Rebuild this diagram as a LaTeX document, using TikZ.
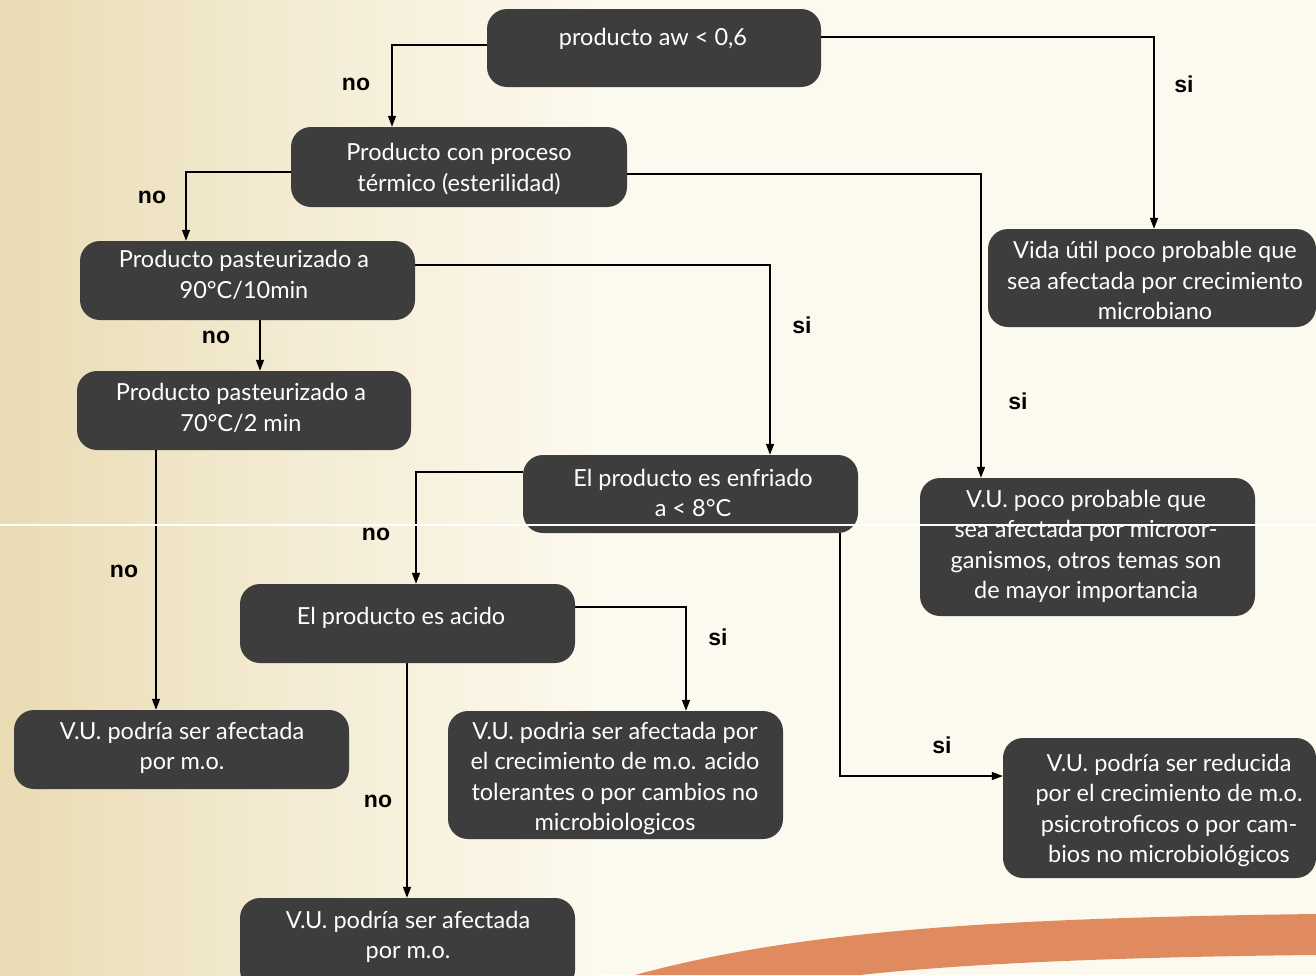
\documentclass[tikz,border=0pt]{standalone}
\usepackage{fontspec}
\setmainfont{Lato}
\newfontfamily\lblfont{Liberation Sans}
\usetikzlibrary{arrows.meta,calc}
\definecolor{boxgray}{HTML}{3D3D3D}
\definecolor{cream}{HTML}{FCF9EE}
\definecolor{tan}{HTML}{E9DBB3}
\definecolor{swoosh}{HTML}{E08A60}
\tikzset{
  box/.style={draw=none, fill=boxgray, rounded corners=20pt, inner sep=0pt},
  txt/.style={text=white, align=center, font=\fontsize{23.5}{30.5}\selectfont, inner sep=0pt},
  arr/.style={draw=black, line width=1.4pt, -{Triangle[length=11pt,width=8pt]}},
  lbl/.style={font=\lblfont\bfseries\fontsize{23}{26}\selectfont, text=black, inner sep=0pt},
}
\begin{document}
\begin{tikzpicture}[x=1pt,y=-1pt]
\useasboundingbox (0,0) rectangle (1316,975);
% background
\fill[cream] (0,0) rectangle (1316,975);
\shade[left color=tan, right color=cream, middle color=tan!45!cream] (0,0) rectangle (600,975);
\fill[swoosh] (635,975) .. controls (800,930) and (1000,918) .. (1316,914) -- (1316,955) .. controls (1100,957) and (950,965) .. (860,975) -- cycle;

% boxes
\node[box, minimum width=334pt, minimum height=78pt] (A) at (654,48) {};
\node[box, minimum width=336pt, minimum height=80pt] (B) at (459,167) {};
\node[box, minimum width=335pt, minimum height=79pt] (C) at (247.5,280.5) {};
\node[box, minimum width=334pt, minimum height=79pt] (D) at (244,410.5) {};
\node[box, minimum width=335pt, minimum height=78pt] (E) at (690.5,494) {};
\node[box, minimum width=328pt, minimum height=98pt] (F) at (1152,278) {};
\node[box, minimum width=335pt, minimum height=138pt] (G) at (1087.5,547) {};
\node[box, minimum width=335pt, minimum height=79pt] (H) at (407.5,623.5) {};
\node[box, minimum width=335pt, minimum height=79pt] (I) at (181.5,749.5) {};
\node[box, minimum width=335pt, minimum height=128pt] (J) at (615.5,775) {};
\node[box, minimum width=313pt, minimum height=140pt] (K) at (1159.5,808) {};
\node[box, minimum width=335pt, minimum height=92pt] (L) at (407.5,944) {};

% texts
\node[txt] (At) at (653,39) {producto aw < 0,6};
\node[txt] (Bt) at (459,169) {Producto con proceso\\térmico (esterilidad)};
\node[txt] (Ct) at (244,275) {Producto pasteurizado a\\90°C/10min};
\node[txt] (Dt) at (241,408) {Producto pasteurizado a\\70°C/2 min};
\node[txt] (Et) at (693,493) {El producto es enfriado\\a < 8°C};
\node[txt] (Ft) at (1155,280.5) {Vida útil poco probable que\\sea afectada por crecimiento\\microbiano};
\node[txt] (Gt) at (1086,546.5) {V.U. poco probable que\\sea afectada por microor-\\ganismos, otros temas son\\de mayor importancia};
\node[txt] (Ht) at (401,618) {El producto es acido};
\node[txt] (It) at (182,748) {V.U. podría ser afectada\\por m.o.};
\node[txt] (Jt) at (615,778.5) {V.U. podria ser afectada por\\el crecimiento de m.o. acido\\tolerantes o por cambios no\\microbiologicos};
\node[txt] (Kt) at (1169,810.5) {V.U. podría ser reducida\\por el crecimiento de m.o.\\psicrotroficos o por cam-\\bios no microbiológicos};
\node[txt] (Lt) at (408,937) {V.U. podría ser afectada\\por m.o.};

% connectors
\draw[arr] (A.west |- 0,45) -| (B.north -| 392,0);
\draw[arr] (A.east |- 0,37) -| (F.north -| 1154,0);
\draw[arr] (B.west |- 0,172) -| (C.north -| 186,0);
\draw[arr] (B.east |- 0,174) -| (G.north -| 981,0);
\draw[arr] (C.east |- 0,265) -| (E.north -| 770,0);
\draw[arr] (C.south -| 260,0) -- (D.north -| 260,0);
\draw[arr] (D.south -| 156,0) -- (I.north -| 156,0);
\draw[arr] (E.west |- 0,472) -| (H.north -| 416,0);
\draw[arr] (E.south -| 840,0) |- (K.west |- 0,776);
\draw[arr] (H.east |- 0,607) -| (J.north -| 686,0);
\draw[arr] (H.south -| 407,0) -- (L.north -| 407,0);

% labels
\node[lbl] (l1) at (356,84) {no};
\node[lbl] (l2) at (1184,84) {si};
\node[lbl] (l3) at (152,197) {no};
\node[lbl] (l4) at (1018,401) {si};
\node[lbl] (l5) at (802,325) {si};
\node[lbl] (l6) at (216,337) {no};
\node[lbl] (l7) at (124,571) {no};
\node[lbl] (l8) at (376,534) {no};
\node[lbl] (l9) at (942,745) {si};
\node[lbl] (l10) at (718,637) {si};
\node[lbl] (l11) at (378,801) {no};

% white rule across
\draw[white, line width=1.5pt] (0,525) -- (1316,525);
\end{tikzpicture}
\end{document}
